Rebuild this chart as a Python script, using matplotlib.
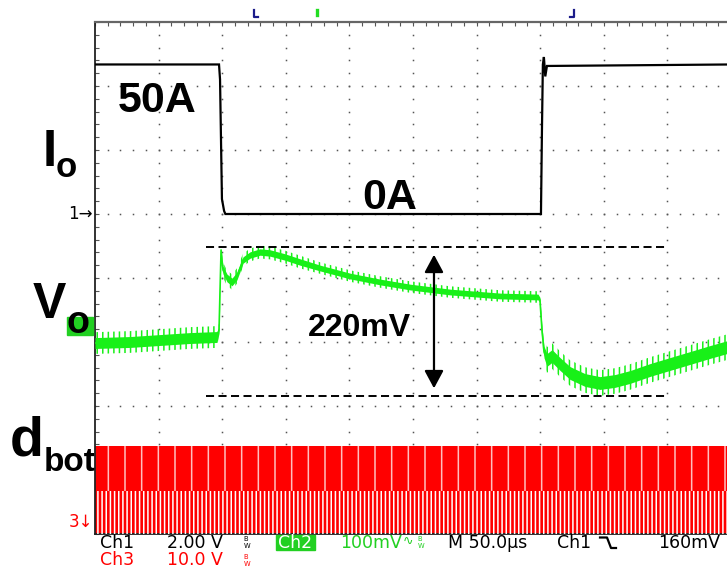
import numpy as np
import matplotlib
matplotlib.use("Agg")
import matplotlib.pyplot as plt
from matplotlib.patches import Rectangle

# ---------------- data ----------------
T_PER_DIV = 50.0          # µs / div  (M 50.0µs)
X_DIVS, Y_DIVS = 10, 8

# Ch1 : output current Io (A)
IO_T = [0, 97.5, 98.3, 99.8, 101.5, 102.5, 350.6, 351.4, 352.1, 352.9, 354.0, 355.3, 500]
IO_A = [50, 50, 45, 5, 1, 0, 0, 28.8, 50, 52.5, 46, 49.5, 50]
IO_GROUND_DIV = 1.0
IO_A_PER_DIV = 21.4

# Ch2 : output voltage Vo (mV, relative to the Ch2 marker), 100 mV/div
VO_T = [0, 27.5, 51.1, 74.7, 95.9, 97.5, 99.1, 100.6, 103.8, 107.7, 111.6, 116.4,
        121.9, 129.7, 137.6, 149.4, 161.2, 176.9, 200.5, 224.1, 247.6, 279.1, 318.4,
        348.3, 349.8, 351.4, 353.0, 355.3, 359.3, 365.6, 373.4, 385.2, 397.0, 408.8,
        420.6, 436.3, 452.0, 467.8, 483.5, 500.0]
VO_MV = [-26.6, -25.0, -21.9, -18.8, -17.2, -6.3, 118.8, 87.5, 75.0, 68.8, 78.1, 103.1,
         110.9, 115.6, 114.1, 107.8, 100.0, 90.6, 78.1, 68.8, 60.9, 53.1, 46.9,
         45.3, 40.6, -6.3, -40.6, -53.1, -46.9, -59.4, -73.4, -84.4, -89.1, -85.9,
         -79.7, -68.8, -59.4, -50.0, -40.6, -31.3]
VO_NOISE_MV = [17, 17, 17, 17, 17, 10, 4, 12, 12, 12, 12, 10,
               10, 10, 10, 10, 10, 9, 9, 9, 9, 9, 9,
               9, 8, 10, 18, 20, 20, 20, 20, 20, 20, 20,
               20, 20, 20, 20, 20, 20]
VO_MARKER_DIV = -0.75
VO_MV_PER_DIV = 100.0

# Ch3 : low-side gate drive d_bot (divisions), switching band
DBOT_T = [0, 500]
DBOT_HIGH_DIV = [-2.62, -2.62]
DBOT_MID_DIV = [-3.33, -3.33]
DBOT_LOW_DIV = [-4.0, -4.0]

# annotation: 220 mV overshoot/undershoot band
BAND_T = [87.3, 449.7]
BAND_TOP_DIV = 0.484
BAND_BOT_DIV = -1.844
ARROW_T = 266.5

# ---------------- figure ----------------
W, H = 727, 575
DPI = 100
plt.rcParams["lines.scale_dashes"] = False
plt.rcParams["hatch.linewidth"] = 1.1
plt.rcParams["mathtext.fontset"] = "dejavusans"
fig = plt.figure(figsize=(W / DPI, H / DPI), dpi=DPI, facecolor="white")

L, R, T, B = 95, 731, 22, 534
ax = fig.add_axes([L / W, (H - B) / H, (R - L) / W, (B - T) / H])
ax.set_xlim(0, X_DIVS * T_PER_DIV)
ax.set_ylim(-Y_DIVS / 2, Y_DIVS / 2)
ax.set_facecolor("white")

ax.spines["right"].set_visible(False)
ax.spines["top"].set_color("#666666")
ax.spines["top"].set_linewidth(1.6)
ax.spines["left"].set_color("#222222")
ax.spines["left"].set_linewidth(1.3)
ax.spines["bottom"].set_color("#222222")
ax.spines["bottom"].set_linewidth(1.3)

ax.set_xticks([])
ax.set_yticks([])
ax.set_xticks(np.arange(0, 500.1, 10), minor=True)
ax.set_yticks(np.arange(-4, 4.01, 0.2), minor=True)
ax.tick_params(which="minor", direction="in", length=3, width=0.8, color="#555555",
               top=True, bottom=False, left=True, right=False,
               labelbottom=False, labelleft=False)

# dotted graticule
gx = np.arange(0, 500.1, 10)
gy = np.arange(-4, 4.01, 0.2)
for k in range(1, X_DIVS):
    ax.plot(np.full_like(gy, k * T_PER_DIV), gy, ls="none", marker="s", ms=1.1,
            color="#555555", mec="none", zorder=1)
for k in range(-3, 4):
    ax.plot(gx, np.full_like(gx, k), ls="none", marker="s", ms=1.1,
            color="#555555", mec="none", zorder=1)

# Ch3 red band
ax.fill_between(DBOT_T, DBOT_LOW_DIV, DBOT_HIGH_DIV, color="#ff0000", lw=0, zorder=2)
ax.fill_between(DBOT_T, DBOT_LOW_DIV, DBOT_MID_DIV, facecolor="none",
                edgecolor="white", hatch="||||", lw=0, zorder=3)
ax.fill_between(DBOT_T, DBOT_MID_DIV, DBOT_HIGH_DIV, facecolor="none",
                edgecolor=(1, 1, 1, 0.75), hatch="|", lw=0, zorder=3)

# Ch1 Io
io_div = [IO_GROUND_DIV + a / IO_A_PER_DIV for a in IO_A]
ax.plot(IO_T, io_div, color="black", lw=1.6, zorder=5, solid_joinstyle="miter")

# Ch2 Vo
GREEN = "#18f018"
vo = np.array([VO_MARKER_DIV + v / VO_MV_PER_DIV for v in VO_MV])
nz = np.array(VO_NOISE_MV) / VO_MV_PER_DIV
ax.fill_between(VO_T, vo - nz, vo + nz, facecolor="none", edgecolor=GREEN,
                hatch="|||", lw=0, zorder=4)
ax.fill_between(VO_T, vo - 0.5 * nz, vo + 0.5 * nz, color=GREEN, lw=0, zorder=4)
ax.plot(VO_T, vo, color=GREEN, lw=1.2, zorder=4)

# 220 mV annotation
for yv in (BAND_TOP_DIV, BAND_BOT_DIV):
    ax.plot(BAND_T, [yv, yv], color="black", lw=1.4, dashes=(5.8, 3.2), zorder=6)
ax.annotate("", xy=(ARROW_T, BAND_TOP_DIV - 0.12), xytext=(ARROW_T, BAND_BOT_DIV + 0.12),
            arrowprops=dict(arrowstyle="<|-|>,head_length=10.8,head_width=5.8",
                            mutation_scale=1, lw=1.6, color="black",
                            shrinkA=0, shrinkB=0), zorder=6)


def ptxt(x, y, s, **kw):
    fig.text(x / W, 1 - y / H, s, **kw)


BOLD = dict(family="Liberation Sans", weight="bold", color="black")
ptxt(118, 112, "50A", fontsize=31, ha="left", va="baseline", **BOLD)
ptxt(362, 209, "0A", fontsize=31, ha="left", va="baseline", **BOLD)
ptxt(308, 336, "220mV", fontsize=23, ha="left", va="baseline", **BOLD)

# channel labels at left
ptxt(43, 166, "I", fontsize=37, ha="left", va="baseline", **BOLD)
ptxt(56, 177, "o", fontsize=25, ha="left", va="baseline", **BOLD)
fig.patches.append(Rectangle((67 / W, 1 - 335 / H), 26 / W, 18 / H,
                             transform=fig.transFigure, color="#22d022", zorder=1))
ptxt(33, 318, "V", fontsize=36, ha="left", va="baseline", **BOLD)
ptxt(66, 333, "o", fontsize=27, ha="left", va="baseline", **BOLD)
ptxt(10, 456, "d", fontsize=40, ha="left", va="baseline", **BOLD)
ptxt(44, 471, "bot", fontsize=24, ha="left", va="baseline", **BOLD)

# channel markers
ptxt(93, 214, "1\u2192", fontsize=12, ha="right", va="center", color="black",
     family="DejaVu Sans")
ptxt(93, 522, "3\u2193", fontsize=12, ha="right", va="center", color="#ff0000",
     family="DejaVu Sans")


# top markers
def fline(xs, ys, c, lw=1.6):
    fig.add_artist(plt.Line2D([x / W for x in xs], [1 - y / H for y in ys],
                              color=c, lw=lw, transform=fig.transFigure))


fline([253.5, 253.5, 258], [10, 17, 17], "#1c1c8a")
fline([316.5, 316.5], [10, 15], "#22dd22", lw=2.4)
fline([570, 574, 574], [17, 17, 10], "#1c1c8a")

# status bar
SB = dict(family="DejaVu Sans", fontsize=12.5, va="baseline", ha="left")
ptxt(100, 548, "Ch1", color="black", **SB)
ptxt(167, 548, "2.00 V", color="black", **SB)
ptxt(100, 565, "Ch3", color="#ff0000", **SB)
ptxt(167, 565, "10.0 V", color="#ff0000", **SB)


def bw(x, y, c):
    ptxt(x, y, r"$^{\mathrm{B}}_{\mathrm{W}}$", color=c, fontsize=7,
         va="center", ha="left")


bw(243, 543, "black")
bw(243, 561, "#ff0000")
fig.patches.append(Rectangle((276 / W, 1 - 550 / H), 39 / W, 15 / H,
                             transform=fig.transFigure, color="#22d022"))
ptxt(278, 548, "Ch2", color="white", **SB)
ptxt(340, 548, "100mV", color="#22d022", **SB)
ptxt(403, 545, "\u223F", color="#22d022", family="DejaVu Sans", fontsize=9,
     va="baseline", ha="left")
bw(417, 543, "#22d022")
ptxt(448, 548, "M 50.0\u00b5s", color="black", **SB)
ptxt(557, 548, "Ch1", color="black", **SB)
fline([600, 607, 611, 616], [537.5, 537.5, 548, 548], "black", lw=1.6)
ptxt(658, 548, "160mV", color="black", **SB)

fig.savefig("out.png", dpi=DPI, facecolor="white")
